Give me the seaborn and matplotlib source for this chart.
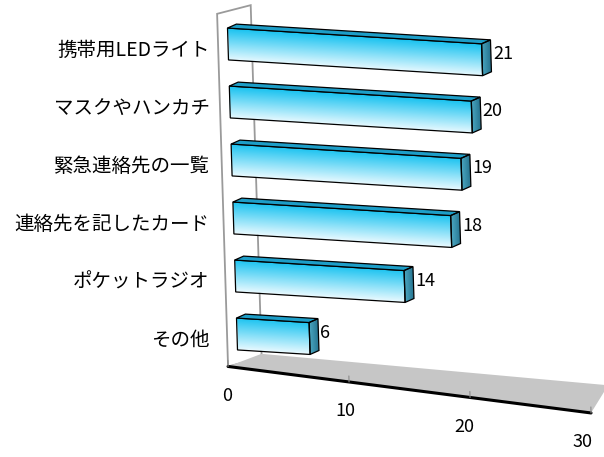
import numpy as np
import pandas as pd
import seaborn as sns
import matplotlib
matplotlib.use("Agg")
import matplotlib.pyplot as plt
from matplotlib.transforms import Affine2D, ScaledTranslation
from matplotlib.patches import Polygon
from matplotlib.colors import LinearSegmentedColormap

categories = ["携帯用LEDライト", "マスクやハンカチ", "緊急連絡先の一覧",
              "連絡先を記したカード", "ポケットラジオ", "その他"]
values = [21, 20, 19, 18, 14, 6]
xticks = [0, 10, 20, 30]

sns.set_theme(style="white")
plt.rcParams['font.family'] = ['Noto Sans CJK JP', 'DejaVu Sans']

W, H = 604, 457
fig = plt.figure(figsize=(W / 100, H / 100), dpi=100)
left_px = 222
ax = fig.add_axes([left_px / W, 0, 1 - left_px / W, 1])

# pixel scale of the fake 3d view
PX_X = 12.1   # px per unit of value
PX_Y = 58.0   # px per category row

df = pd.DataFrame({"item": categories, "count": values})
sns.barplot(data=df, x="count", y="item", orient="h", width=0.55,
            color="#1cc4f0", edgecolor="black", linewidth=0.9, ax=ax)

xmin = -(228 - left_px) / PX_X
ax.set_xlim(xmin, xmin + (W - left_px) / PX_X)
ytop = -44 / PX_Y
ax.set_ylim(ytop + H / PX_Y, ytop)

# shear: value pushes down a little, lower rows shift right a little
def shear(s):
    return Affine2D.from_values(1, s / PX_Y, 1.8 / PX_X, 1, 0, 0)

tr = shear(0.75) + ax.transData
tr_floor = shear(1.55) + ax.transData

front_cmap = LinearSegmentedColormap.from_list("front", ["#18c2f0", "#e6f9ff"])
side_cmap = LinearSegmentedColormap.from_list("side", ["#4aa6c0", "#23708c"])
grad = np.linspace(0, 1, 64).reshape(-1, 1)

ddx, ddy = 9 / PX_X, -4.5 / PX_Y   # depth of a bar

for p, v in zip(ax.patches, values):
    x, y, w, h = p.get_x(), p.get_y(), p.get_width(), p.get_height()
    p.set_transform(tr)
    p.set_facecolor("none")
    p.set_zorder(3)
    im = ax.imshow(grad, extent=(x, x + w, y + h, y), cmap=front_cmap,
                   aspect="auto", transform=tr, zorder=2.5,
                   interpolation="bilinear")
    im.set_clip_path(p)
    top = Polygon([(x, y), (x + w, y), (x + w + ddx, y + ddy), (x + ddx, y + ddy)],
                  closed=True, facecolor="#1d9ec8", edgecolor="black",
                  linewidth=0.9, transform=tr, zorder=3)
    ax.add_patch(top)
    side = Polygon([(x + w, y), (x + w + ddx, y + ddy),
                    (x + w + ddx, y + h + ddy), (x + w, y + h)],
                   closed=True, facecolor="none", edgecolor="black",
                   linewidth=0.9, transform=tr, zorder=3)
    ax.add_patch(side)
    sim = ax.imshow(grad.T, extent=(x + w, x + w + ddx, y + h, y + ddy),
                    cmap=side_cmap, aspect="auto", transform=tr, zorder=2.5,
                    interpolation="bilinear")
    sim.set_clip_path(side)
    ax.text(x + w + ddx + 2 / PX_X, y + h / 2 + ddy - 2 / PX_Y, str(v), transform=tr,
            ha="left", va="center", fontsize=13, color="black", zorder=4)

# left wall and floor
fx, fy = -10 / PX_X, 3 / PX_Y
bx, by = fx + 34 / PX_X, fy - 13 / PX_Y
c_top = -0.55
c_floor = len(categories) - 0.47
x_end = xticks[-1]

wall = Polygon([(fx, c_top + fy), (fx, c_floor + fy), (bx, c_floor + by), (bx, c_top + by)],
               closed=True, facecolor="white", edgecolor="#9a9a9a",
               linewidth=1.3, transform=tr_floor, zorder=1, clip_on=False)
ax.add_patch(wall)

floor = Polygon([(fx, c_floor + fy), (x_end + fx, c_floor + fy),
                 (x_end + fx + 18 / PX_X, c_floor + fy - 30 / PX_Y),
                 (fx + 34 / PX_X, c_floor + fy - 17 / PX_Y)],
                closed=True, facecolor="#c6c6c6", edgecolor="none",
                transform=tr_floor, zorder=1.5, clip_on=False)
ax.add_patch(floor)
ax.plot([fx, x_end + fx], [c_floor + fy, c_floor + fy], color="black",
        linewidth=2.2, transform=tr_floor, zorder=1.6, clip_on=False)

for t in xticks:
    ax.plot([t + fx, t + fx], [c_floor + fy, c_floor + fy - 6 / PX_Y],
            color="#8a8a8a", linewidth=0.8, transform=tr_floor, zorder=1.7)
    ax.text(t + fx - (2 + 0.25 * t) / PX_X, c_floor + fy + 30 / PX_Y, str(t),
            transform=tr_floor, ha="center", va="center", fontsize=13, color="black")

ax.set_xticks([])
ax.set_xlabel("")
ax.set_ylabel("")
ax.tick_params(axis="y", length=0, pad=9, labelsize=14, labelcolor="black")
for lab in ax.get_yticklabels():
    lab.set_transform(lab.get_transform() + ScaledTranslation(0, -4 / 100, fig.dpi_scale_trans))
sns.despine(ax=ax, left=True, bottom=True)
ax.patch.set_alpha(0)

fig.savefig("out.png", dpi=100)
